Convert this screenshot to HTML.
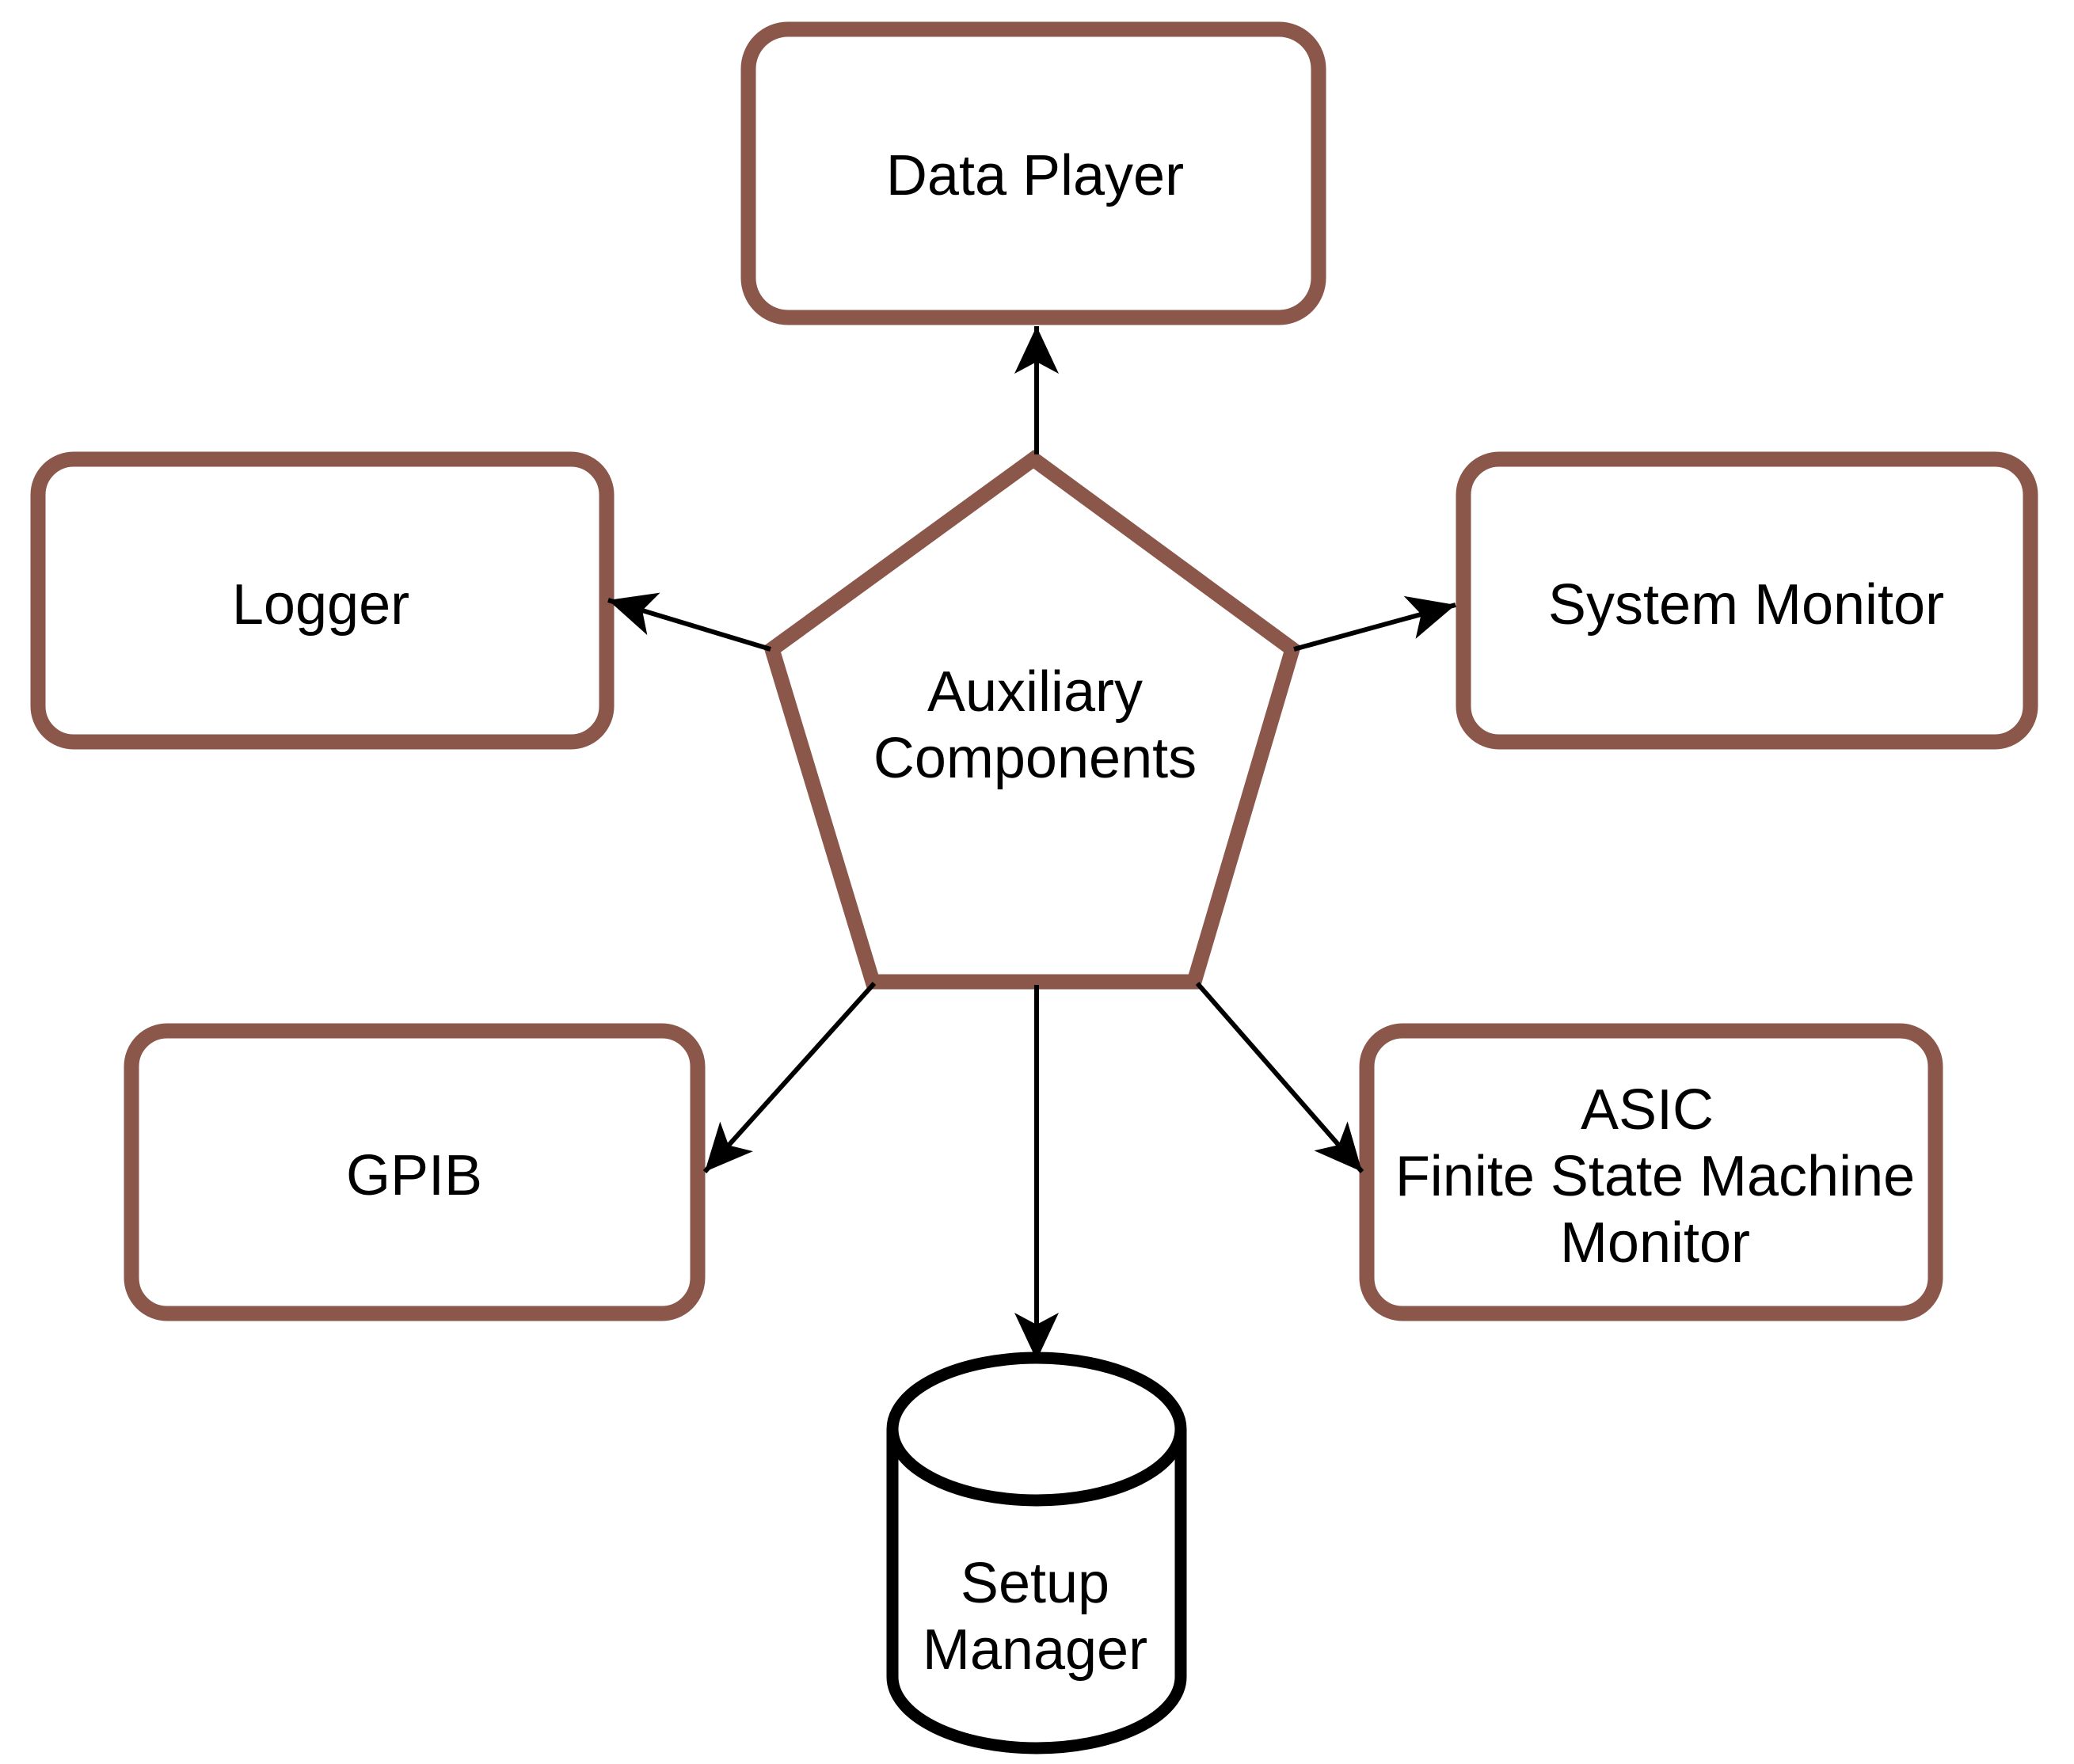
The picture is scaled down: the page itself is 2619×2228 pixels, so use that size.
<!DOCTYPE html>
<html><head><meta charset="utf-8"><style>
html,body{margin:0;padding:0;background:#fff;}
svg{display:block;}
text{font-family:"Liberation Sans",Arial,sans-serif;font-size:72px;fill:#000;text-anchor:middle;dominant-baseline:central;}
</style></head><body>
<svg width="2619" height="2228" viewBox="0 0 2619 2228" xmlns="http://www.w3.org/2000/svg">
<defs>
<marker id="a" markerUnits="userSpaceOnUse" markerWidth="70" markerHeight="70" refX="60" refY="30" orient="auto">
<path d="M0,2 L60,30 L0,58 L15,30 Z" fill="#000"/>
</marker>
</defs>
<g fill="#fff" stroke="#8B574B" stroke-width="19">
<rect x="945" y="37" width="720" height="364" rx="50"/>
<rect x="48" y="580" width="718" height="357" rx="45"/>
<rect x="1848" y="580" width="716" height="357" rx="45"/>
<rect x="166" y="1302" width="715" height="357" rx="45"/>
<rect x="1726" y="1302" width="718" height="357" rx="45"/>
<polygon points="1305,580 1632,820 1508,1240 1102,1240 975,820" stroke-linejoin="miter"/>
</g>
<g stroke="#000" stroke-width="6" fill="none">
<line x1="1309" y1="574" x2="1309" y2="412" marker-end="url(#a)"/>
<line x1="973" y1="820" x2="768" y2="758" marker-end="url(#a)"/>
<line x1="1634" y1="820" x2="1838" y2="764" marker-end="url(#a)"/>
<line x1="1104" y1="1242" x2="890" y2="1480" marker-end="url(#a)"/>
<line x1="1512" y1="1242" x2="1720" y2="1480" marker-end="url(#a)"/>
<line x1="1309" y1="1244" x2="1309" y2="1718" marker-end="url(#a)"/>
</g>
<g stroke="#000" stroke-width="15" fill="#fff">
<path d="M1127,1805 A182,90 0 0 1 1491,1805 L1491,2118 A182,90 0 0 1 1127,2118 Z"/>
<path d="M1127,1805 A182,90 0 0 0 1491,1805" fill="none"/>
</g>
<text x="1307" y="222">Data Player</text>
<text x="405" y="764">Logger</text>
<text x="2205" y="764">System Monitor</text>
<text x="523" y="1485">GPIB</text>
<text x="1307" y="874">Auxiliary</text>
<text x="1307" y="958">Components</text>
<text x="2080" y="1402">ASIC</text>
<text x="2090" y="1486">Finite State Machine</text>
<text x="2090" y="1570">Monitor</text>
<text x="1307" y="2000">Setup</text>
<text x="1307" y="2084">Manager</text>
</svg>
</body></html>
